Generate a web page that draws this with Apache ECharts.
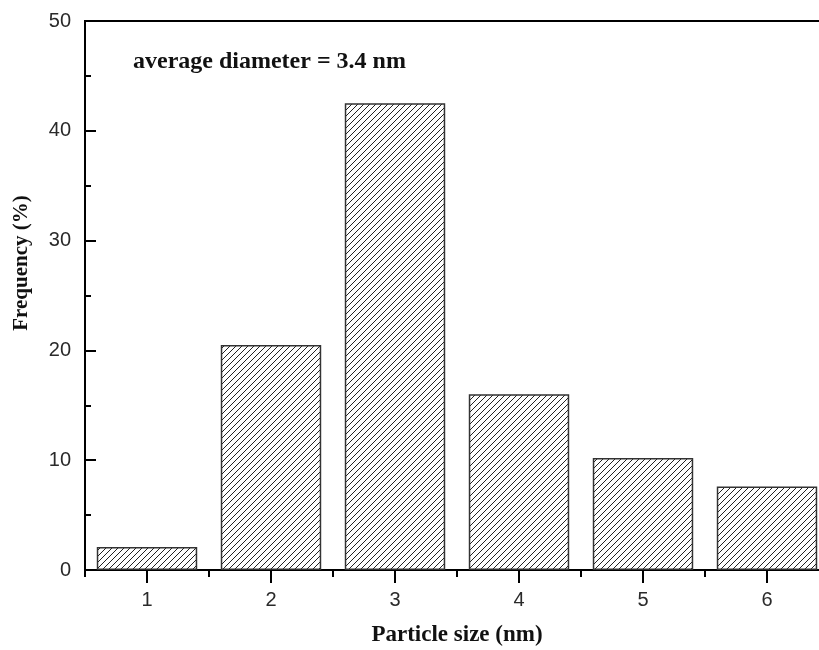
<!DOCTYPE html>
<html>
<head>
<meta charset="utf-8">
<script src="https://cdn.jsdelivr.net/npm/echarts@6/dist/echarts.min.js"></script>
<style>html,body{margin:0;padding:0;background:#fff;}#c{width:819px;height:650px;}</style>
</head>
<body>
<div id="c"></div>
<script>
var categories = ['1', '2', '3', '4', '5', '6'];
var frequency = [2.1, 20.5, 42.5, 16.0, 10.2, 7.6];
var yTicks = [0, 10, 20, 30, 40, 50];
var annotation = 'average diameter = 3.4 nm';
var xName = 'Particle size (nm)';
var yName = 'Frequency (%)';

// hatch pattern "///"
var tile = document.createElement('canvas');
tile.width = 6; tile.height = 6;
var g = tile.getContext('2d');
g.fillStyle = '#fff'; g.fillRect(0, 0, 6, 6);
g.strokeStyle = '#222'; g.lineWidth = 1;
g.beginPath();
g.moveTo(0, 6); g.lineTo(6, 0);
g.moveTo(-1, 1); g.lineTo(1, -1);
g.moveTo(5, 7); g.lineTo(7, 5);
g.stroke();

var chart = echarts.init(document.getElementById('c'), null, {renderer: 'canvas'});
var serif = '"Liberation Serif", "DejaVu Serif", serif';
var sans = '"Liberation Sans", Arial, sans-serif';
chart.setOption({
  animation: false,
  backgroundColor: '#fff',
  grid: {left: 85, width: 744, top: 21, height: 549, outerBoundsMode: 'none', containLabel: false,
         show: true, borderColor: '#000', borderWidth: 2, backgroundColor: 'transparent'},
  xAxis: [{
    type: 'category', data: categories, position: 'bottom',
    axisLine: {show: true, lineStyle: {color: '#000', width: 2}},
    axisTick: {show: true, alignWithLabel: true, length: 13, lineStyle: {color: '#000', width: 2}},
    axisLabel: {margin: 20, fontFamily: sans, fontSize: 20, color: '#2a2a2a'},
    splitLine: {show: false}
  }, {
    type: 'category', data: categories, position: 'bottom',
    axisLine: {show: false},
    axisTick: {show: true, alignWithLabel: false, length: 7, lineStyle: {color: '#000', width: 2}},
    axisLabel: {show: false},
    splitLine: {show: false}
  }],
  yAxis: {
    type: 'value', min: yTicks[0], max: yTicks[yTicks.length - 1], interval: 10,
    axisLine: {show: true, lineStyle: {color: '#000', width: 2}},
    axisTick: {show: true, inside: true, length: 11, lineStyle: {color: '#000', width: 2}},
    minorTick: {show: true, splitNumber: 2, length: 6, lineStyle: {color: '#000', width: 2}},
    axisLabel: {margin: 14, fontFamily: sans, fontSize: 20, color: '#2a2a2a'},
    splitLine: {show: false}
  },
  series: [{
    type: 'bar', data: frequency, xAxisIndex: 0, barWidth: '81%',
    itemStyle: {color: {image: tile, repeat: 'repeat'}, borderColor: '#333', borderWidth: 1.5}
  }],
  graphic: [
    {type: 'text', left: 133, top: 50, style: {text: annotation, font: 'bold 24px ' + serif, fill: '#111'}},
    {type: 'text', x: 457, y: 635, style: {text: xName, font: 'bold 23px ' + serif, fill: '#111', textAlign: 'center', textVerticalAlign: 'middle'}},
    {type: 'text', x: 22, y: 263, rotation: Math.PI / 2, style: {text: yName, font: 'bold 21px ' + serif, fill: '#111', textAlign: 'center', textVerticalAlign: 'middle'}}
  ]
});
</script>
</body>
</html>
